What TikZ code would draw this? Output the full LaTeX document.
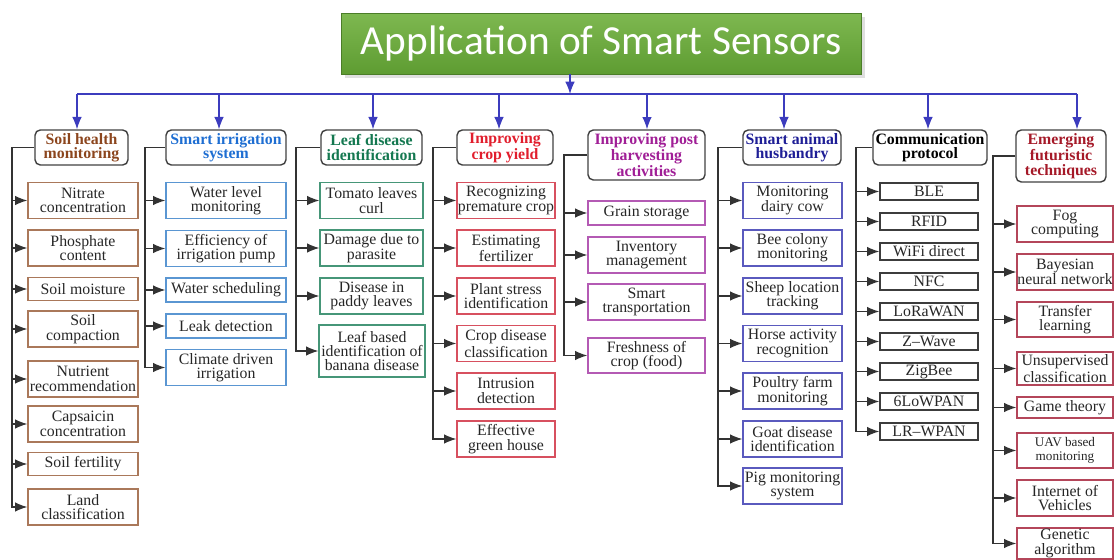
\documentclass[tikz,border=0pt]{standalone}
\usepackage{fontspec}
\setmainfont{Liberation Serif}
\newfontfamily\titlefont{Carlito}
\usetikzlibrary{shadows,arrows.meta}

\definecolor{soiltext}{RGB}{140,70,30}
\definecolor{soilline}{RGB}{170,120,90}
\definecolor{irrtext}{RGB}{30,110,210}
\definecolor{irrline}{RGB}{90,150,210}
\definecolor{leaftext}{RGB}{20,120,80}
\definecolor{leafline}{RGB}{70,150,120}
\definecolor{croptext}{RGB}{225,30,45}
\definecolor{cropline}{RGB}{215,80,95}
\definecolor{posttext}{RGB}{160,30,150}
\definecolor{postline}{RGB}{180,90,180}
\definecolor{animtext}{RGB}{30,30,150}
\definecolor{animline}{RGB}{90,90,190}
\definecolor{commline}{RGB}{60,60,60}
\definecolor{emertext}{RGB}{165,25,40}
\definecolor{emerline}{RGB}{180,70,90}
\definecolor{busblue}{RGB}{60,60,190}
\definecolor{titletop}{RGB}{126,184,80}
\definecolor{titlebot}{RGB}{94,156,50}

\tikzset{
    every node/.style={font=\fontsize{9}{8.2}\selectfont},
    titlebox/.style={draw=titlebot!80!black, top color=titletop, bottom color=titlebot,
        text=white, minimum width=10.4cm, minimum height=1.22cm, inner sep=0pt,
        font=\titlefont\fontsize{23.5}{26}\selectfont, drop shadow={opacity=0.25}},
    head/.style={draw=black!75, rounded corners=3pt, line width=0.8pt, align=center,
        inner sep=0pt, minimum height=0.7cm, font=\bfseries\fontsize{9}{8.2}\selectfont},
    item/.style={draw, line width=0.8pt, align=center, inner sep=0pt, text=black!85},
    two/.style={minimum height=0.72cm},
    one/.style={minimum height=0.46cm},
    soilbox/.style={item, draw=soilline, minimum width=2.2cm},
    irrbox/.style={item, draw=irrline, minimum width=2.4cm},
    leafbox/.style={item, draw=leafline, minimum width=2.06cm},
    cropbox/.style={item, draw=cropline, minimum width=1.96cm},
    postbox/.style={item, draw=postline, minimum width=2.34cm},
    animbox/.style={item, draw=animline, minimum width=1.98cm},
    commbox/.style={item, draw=commline, minimum width=1.96cm, minimum height=0.34cm},
    emerbox/.style={item, draw=emerline, minimum width=1.92cm},
    conn/.style={draw=black!80, line width=0.75pt, -{Latex[length=7pt,width=5.5pt]}},
    busline/.style={draw=busblue, line width=0.75pt},
    busarrow/.style={busline, -{Latex[length=7pt,width=5.5pt]}}
}

\begin{document}
\begin{tikzpicture}[x=0.02cm, y=-0.02cm]
    \useasboundingbox (0,0) rectangle (1115,560);

    % title and blue bus
    \node[titlebox] (title) at (601,43.5) {Application of Smart Sensors};
    \coordinate (busL) at (77,94);
    \coordinate (busR) at (1077,94);
    \coordinate (busT) at (570,94);
    \draw[busline] (busL) -- (busR);
    \draw[busarrow] (title.south -| busT) -- (busT);

    % headings
    \node[head, text=soiltext, minimum width=1.86cm] (h1) at (81.5,147.5) {Soil health\\monitoring};
    \node[head, text=irrtext, minimum width=2.4cm] (h2) at (226,147.5) {Smart irrigation\\system};
    \node[head, text=leaftext, minimum width=2.02cm] (h3) at (371.5,147.5) {Leaf disease\\identification};
    \node[head, text=croptext, minimum width=1.92cm] (h4) at (505,147.5) {Improving\\crop yield};
    \node[head, text=posttext, minimum width=2.34cm, minimum height=1.0cm] (h5) at (646.5,155) {Improving post\\harvesting\\activities};
    \node[head, text=animtext, minimum width=1.96cm] (h6) at (792,147.5) {Smart animal\\husbandry};
    \node[head, text=black, minimum width=2.28cm] (h7) at (930,147.5) {Communication\\protocol};
    \node[head, text=emertext, minimum width=1.8cm, minimum height=1.04cm] (h8) at (1061,156) {Emerging\\futuristic\\techniques};

    % drops from the bus
    \coordinate (d2) at (219,94);
    \coordinate (d3) at (373,94);
    \coordinate (d4) at (499,94);
    \coordinate (d5) at (647,94);
    \coordinate (d6) at (784,94);
    \coordinate (d7) at (928,94);
    \draw[busarrow] (busL) -- (busL |- h1.north);
    \draw[busarrow] (d2) -- (d2 |- h2.north);
    \draw[busarrow] (d3) -- (d3 |- h3.north);
    \draw[busarrow] (d4) -- (d4 |- h4.north);
    \draw[busarrow] (d5) -- (d5 |- h5.north);
    \draw[busarrow] (d6) -- (d6 |- h6.north);
    \draw[busarrow] (d7) -- (d7 |- h7.north);
    \draw[busarrow] (busR) -- (busR |- h8.north);

    % soil health
    \node[soilbox, two] (a1) at (83,200.5) {Nitrate\\concentration};
    \node[soilbox, two] (a2) at (83,248) {Phosphate\\content};
    \node[soilbox, one] (a3) at (83,289) {Soil moisture};
    \node[soilbox, two] (a4) at (83,329) {Soil\\compaction};
    \node[soilbox, two] (a5) at (83,379) {Nutrient\\recommendation};
    \node[soilbox, two] (a6) at (83,424) {Capsaicin\\concentration};
    \node[soilbox, one] (a7) at (83,464) {Soil fertility};
    \node[soilbox, two] (a8) at (83,507) {Land\\classification};
    \coordinate (t1) at (12,0);
    \draw[conn] (h1.west) -- (h1.west -| t1) |- (a8.west);
    \draw[conn] (a1.west -| t1) -- (a1.west);
    \draw[conn] (a2.west -| t1) -- (a2.west);
    \draw[conn] (a3.west -| t1) -- (a3.west);
    \draw[conn] (a4.west -| t1) -- (a4.west);
    \draw[conn] (a5.west -| t1) -- (a5.west);
    \draw[conn] (a6.west -| t1) -- (a6.west);
    \draw[conn] (a7.west -| t1) -- (a7.west);

    % smart irrigation
    \node[irrbox, two] (b1) at (226,200.5) {Water level\\monitoring};
    \node[irrbox, two] (b2) at (226,248.5) {Efficiency of\\irrigation pump};
    \node[irrbox, minimum height=0.48cm] (b3) at (226,290) {Water scheduling};
    \node[irrbox, minimum height=0.48cm] (b4) at (226,326) {Leak detection};
    \node[irrbox, two] (b5) at (226,367.5) {Climate driven\\irrigation};
    \coordinate (t2) at (145,0);
    \draw[conn] (h2.west) -- (h2.west -| t2) |- (b5.west);
    \draw[conn] (b1.west -| t2) -- (b1.west);
    \draw[conn] (b2.west -| t2) -- (b2.west);
    \draw[conn] (b3.west -| t2) -- (b3.west);
    \draw[conn] (b4.west -| t2) -- (b4.west);

    % leaf disease
    \node[leafbox, two] (c1) at (371.5,200.5) {Tomato leaves\\curl};
    \node[leafbox, two] (c2) at (371.5,248) {Damage due to\\parasite};
    \node[leafbox, two] (c3) at (371.5,296) {Disease in\\paddy leaves};
    \node[leafbox, minimum width=2.12cm, minimum height=1.04cm] (c4) at (372,351) {Leaf based\\identification of\\banana disease};
    \coordinate (t3) at (296,0);
    \draw[conn] (h3.west) -- (h3.west -| t3) |- (c4.west);
    \draw[conn] (c1.west -| t3) -- (c1.west);
    \draw[conn] (c2.west -| t3) -- (c2.west);
    \draw[conn] (c3.west -| t3) -- (c3.west);

    % crop yield
    \node[cropbox, two] (e1) at (506,200.5) {Recognizing\\premature crop};
    \node[cropbox, two] (e2) at (506,248) {Estimating\\fertilizer};
    \node[cropbox, two] (e3) at (506,296) {Plant stress\\identification};
    \node[cropbox, two] (e4) at (506,343.5) {Crop disease\\classification};
    \node[cropbox, two] (e5) at (506,391) {Intrusion\\detection};
    \node[cropbox, two] (e6) at (506,439) {Effective\\green house};
    \coordinate (t4) at (433,0);
    \draw[conn] (h4.west) -- (h4.west -| t4) |- (e6.west);
    \draw[conn] (e1.west -| t4) -- (e1.west);
    \draw[conn] (e2.west -| t4) -- (e2.west);
    \draw[conn] (e3.west -| t4) -- (e3.west);
    \draw[conn] (e4.west -| t4) -- (e4.west);
    \draw[conn] (e5.west -| t4) -- (e5.west);

    % post harvesting
    \node[postbox, minimum height=0.48cm] (p1) at (646.5,213) {Grain storage};
    \node[postbox, two] (p2) at (646.5,255) {Inventory\\management};
    \node[postbox, two] (p3) at (646.5,302) {Smart\\transportation};
    \node[postbox, minimum height=0.7cm] (p4) at (646.5,355.5) {Freshness of\\crop (food)};
    \coordinate (t5) at (564,0);
    \draw[conn] (h5.west) -- (h5.west -| t5) |- (p4.west);
    \draw[conn] (p1.west -| t5) -- (p1.west);
    \draw[conn] (p2.west -| t5) -- (p2.west);
    \draw[conn] (p3.west -| t5) -- (p3.west);

    % animal husbandry
    \node[animbox, two] (f1) at (792.5,200.5) {Monitoring\\dairy cow};
    \node[animbox, two] (f2) at (792.5,248) {Bee colony\\monitoring};
    \node[animbox, two] (f3) at (792.5,296) {Sheep location\\tracking};
    \node[animbox, two] (f4) at (792.5,343.5) {Horse activity\\recognition};
    \node[animbox, two] (f5) at (792.5,391) {Poultry farm\\monitoring};
    \node[animbox, two] (f6) at (792.5,439) {Goat disease\\identification};
    \node[animbox, two] (f7) at (792.5,486) {Pig monitoring\\system};
    \coordinate (t6) at (718,0);
    \draw[conn] (h6.west) -- (h6.west -| t6) |- (f7.west);
    \draw[conn] (f1.west -| t6) -- (f1.west);
    \draw[conn] (f2.west -| t6) -- (f2.west);
    \draw[conn] (f3.west -| t6) -- (f3.west);
    \draw[conn] (f4.west -| t6) -- (f4.west);
    \draw[conn] (f5.west -| t6) -- (f5.west);
    \draw[conn] (f6.west -| t6) -- (f6.west);

    % communication protocol
    \node[commbox] (g1) at (929,191.5) {BLE};
    \node[commbox] (g2) at (929,221.5) {RFID};
    \node[commbox] (g3) at (929,251.5) {WiFi direct};
    \node[commbox] (g4) at (929,281.5) {NFC};
    \node[commbox] (g5) at (929,311.5) {LoRaWAN};
    \node[commbox] (g6) at (929,341.5) {Z--Wave};
    \node[commbox] (g7) at (929,371.5) {ZigBee};
    \node[commbox] (g8) at (929,401.5) {6LoWPAN};
    \node[commbox] (g9) at (929,431.5) {LR--WPAN};
    \coordinate (t7) at (856,0);
    \draw[conn] (h7.west) -- (h7.west -| t7) |- (g9.west);
    \draw[conn] (g1.west -| t7) -- (g1.west);
    \draw[conn] (g2.west -| t7) -- (g2.west);
    \draw[conn] (g3.west -| t7) -- (g3.west);
    \draw[conn] (g4.west -| t7) -- (g4.west);
    \draw[conn] (g5.west -| t7) -- (g5.west);
    \draw[conn] (g6.west -| t7) -- (g6.west);
    \draw[conn] (g7.west -| t7) -- (g7.west);
    \draw[conn] (g8.west -| t7) -- (g8.west);

    % emerging techniques
    \node[emerbox, two] (k1) at (1065,224) {Fog\\computing};
    \node[emerbox, two] (k2) at (1065,272) {Bayesian\\neural network};
    \node[emerbox, minimum height=0.7cm] (k3) at (1065,319.5) {Transfer\\learning};
    \node[emerbox, minimum height=0.66cm] (k4) at (1065,368.5) {Unsupervised\\classification};
    \node[emerbox, minimum height=0.42cm] (k5) at (1065,407.5) {Game theory};
    \node[emerbox, minimum height=0.7cm, font=\fontsize{7.5}{8.2}\selectfont] (k6) at (1065,450.5) {UAV based\\monitoring};
    \node[emerbox, two] (k7) at (1065,498) {Internet of\\Vehicles};
    \node[emerbox, minimum height=0.62cm] (k8) at (1065,543.5) {Genetic\\algorithm};
    \coordinate (t8) at (993,0);
    \draw[conn] (h8.west) -- (h8.west -| t8) |- (k8.west);
    \draw[conn] (k1.west -| t8) -- (k1.west);
    \draw[conn] (k2.west -| t8) -- (k2.west);
    \draw[conn] (k3.west -| t8) -- (k3.west);
    \draw[conn] (k4.west -| t8) -- (k4.west);
    \draw[conn] (k5.west -| t8) -- (k5.west);
    \draw[conn] (k6.west -| t8) -- (k6.west);
    \draw[conn] (k7.west -| t8) -- (k7.west);
\end{tikzpicture}
\end{document}
